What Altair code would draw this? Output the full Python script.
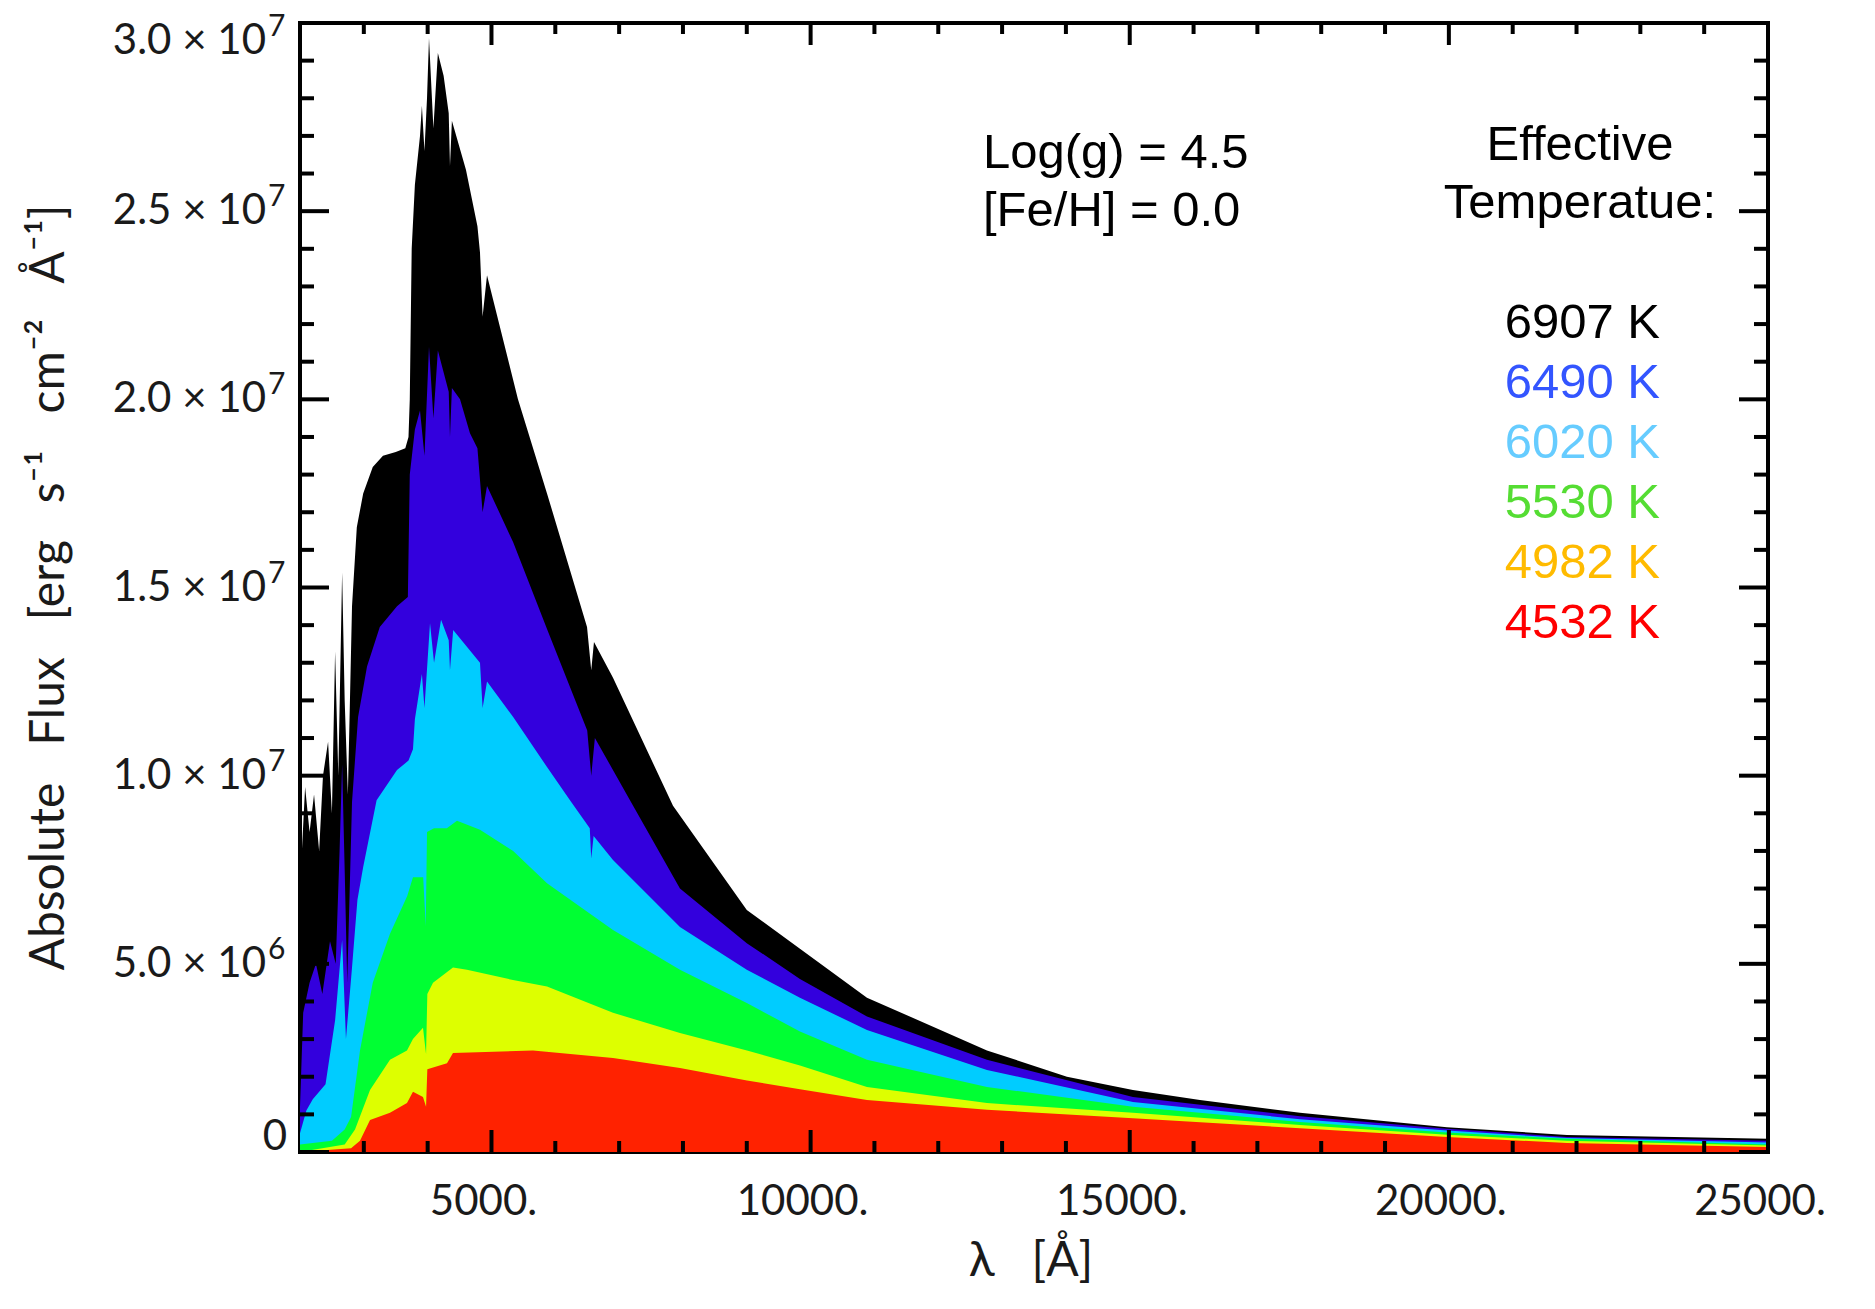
import altair as alt
import pandas as pd

# ---------------- data ----------------
# wavelength in Angstrom, flux in units of 1e7 erg s^-1 cm^-2 A^-1 (upper envelope)
temps = ["6907 K", "6490 K", "6020 K", "5530 K", "4982 K", "4532 K"]
fill_colors = ["#000000", "#3300dd", "#00ccff", "#00ff33", "#ddff00", "#ff2200"]
label_colors = ["#000000", "#3355ff", "#66ccff", "#55dd33", "#ffbb00", "#ff0000"]

wl_6907 = [2000, 2080, 2150, 2220, 2300, 2360, 2440, 2500, 2550, 2600, 2660, 2700, 2750, 2815,
           2890, 2990, 3140, 3300, 3500, 3650, 3700, 3720, 3750, 3800, 3880, 3910, 3950, 3990,
           4021, 4090, 4160, 4250, 4330, 4350, 4380, 4600, 4780, 4820, 4861, 4930, 5415, 5870,
           6497, 6563, 6606, 6904, 7844, 9000, 9833, 10883, 12763, 14016, 15050, 16100,
           17667, 19970, 21850, 25000]
fx_6907 = [0.70, 0.97, 0.85, 0.95, 0.80, 1.00, 1.09, 0.90, 1.33, 1.00, 1.54, 1.20, 0.95, 1.45,
           1.66, 1.75, 1.82, 1.85, 1.86, 1.87, 1.90, 2.00, 2.40, 2.57, 2.70, 2.78, 2.66, 2.80,
           2.96, 2.72, 2.92, 2.86, 2.76, 2.62, 2.74, 2.61, 2.46, 2.39, 2.22, 2.33, 2.00, 1.75,
           1.395, 1.28, 1.355, 1.26, 0.92, 0.643, 0.54, 0.41, 0.27, 0.20, 0.165, 0.138,
           0.104, 0.066, 0.045, 0.035]

wl_6490 = [2000, 2050, 2150, 2250, 2350, 2470, 2560, 2620, 2660, 2700, 2740, 2815, 2910, 3050,
           3250, 3520, 3690, 3720, 3800, 3880, 3950, 4021, 4090, 4160, 4330, 4350, 4380, 4507,
           4663, 4780, 4861, 4930, 5340, 5870, 6500, 6563, 6620, 7170, 7953, 9000, 9833, 10883,
           12763, 15050, 17667, 19970, 21850, 25000]
fx_6490 = [0.12, 0.37, 0.45, 0.50, 0.42, 0.56, 0.50, 0.80, 1.03, 0.75, 0.45, 0.93, 1.156, 1.29,
           1.395, 1.45, 1.475, 1.80, 1.92, 1.97, 1.85, 2.14, 1.95, 2.13, 2.02, 1.90, 2.03, 2.00,
           1.91, 1.87, 1.70, 1.77, 1.62, 1.39, 1.12, 1.00, 1.10, 0.935, 0.70, 0.555, 0.46, 0.36,
           0.245, 0.146, 0.095, 0.062, 0.040, 0.030]

wl_6020 = [2000, 2100, 2200, 2400, 2550, 2660, 2720, 2815, 2900, 2990, 3200, 3520, 3700, 3770,
           3800, 3910, 3950, 4037, 4100, 4210, 4330, 4350, 4400, 4820, 4861, 4930, 5340, 5870,
           6230, 6540, 6563, 6600, 6904, 7953, 9000, 9833, 10883, 12763, 15050, 17667, 19970,
           21850, 25000]
fx_6020 = [0.05, 0.11, 0.14, 0.18, 0.35, 0.563, 0.30, 0.49, 0.67, 0.757, 0.935, 1.015, 1.04, 1.07,
           1.15, 1.27, 1.18, 1.405, 1.30, 1.414, 1.36, 1.28, 1.387, 1.30, 1.18, 1.25, 1.156, 1.023,
           0.935, 0.86, 0.78, 0.84, 0.776, 0.598, 0.484, 0.41, 0.324, 0.218, 0.133, 0.087, 0.057,
           0.037, 0.025]

wl_5530 = [2000, 2500, 2700, 2800, 2940, 3140, 3410, 3680, 3770, 3930, 3970, 3990, 4100, 4300,
           4460, 4820, 5340, 5870, 6904, 7953, 9000, 9833, 10883, 12763, 15050, 17667, 19970,
           21850, 25000]
fx_5530 = [0.02, 0.03, 0.06, 0.093, 0.27, 0.45, 0.58, 0.68, 0.73, 0.73, 0.60, 0.85, 0.86, 0.86,
           0.88, 0.856, 0.80, 0.714, 0.59, 0.484, 0.396, 0.32, 0.245, 0.173, 0.12, 0.080, 0.052,
           0.035, 0.020]

wl_4982 = [2000, 2700, 2862, 3097, 3410, 3676, 3770, 3927, 3975, 3995, 4084, 4397, 4616, 5337,
           5870, 6904, 7953, 9003, 9833, 10883, 12763, 15050, 17667, 19970, 21850, 25000]
fx_4982 = [0.0, 0.02, 0.06, 0.165, 0.245, 0.27, 0.30, 0.33, 0.26, 0.42, 0.45, 0.49, 0.484, 0.457,
           0.44, 0.37, 0.316, 0.27, 0.23, 0.173, 0.13, 0.104, 0.072, 0.046, 0.030, 0.017]

wl_4532 = [2000, 2800, 2940, 3097, 3410, 3676, 3770, 3927, 3975, 3995, 4303, 4397, 5650, 6904,
           7953, 9003, 9833, 10883, 12763, 15050, 17667, 19970, 21850, 25000]
fx_4532 = [0.0, 0.01, 0.03, 0.085, 0.104, 0.13, 0.16, 0.146, 0.12, 0.22, 0.236, 0.263, 0.27, 0.25,
           0.223, 0.19, 0.167, 0.138, 0.112, 0.09, 0.063, 0.040, 0.024, 0.013]

series_wl = [wl_6907, wl_6490, wl_6020, wl_5530, wl_4982, wl_4532]
series_fx = [fx_6907, fx_6490, fx_6020, fx_5530, fx_4982, fx_4532]

x_major = [5000, 10000, 15000, 20000, 25000]
x_minor = [v for v in range(3000, 25000, 1000) if v % 5000 != 0]
y_major = [0, 5e6, 1e7, 1.5e7, 2e7, 2.5e7, 3e7]
y_minor = [v * 1e6 for v in range(1, 30) if v % 5 != 0]

SP = " \u00a0\u00a0"  # wide word gap (plain spaces collapse in SVG)
x_title = "λ" + SP + "[Å]"
y_title = SP.join(["Absolute", "Flux", "[erg", "s⁻¹", "cm⁻²", "Å⁻¹]"])
annot_lines = ["Log(g) = 4.5", "[Fe/H] = 0.0"]
legend_head = ["Effective", "Temperatue:"]

# ---------------- chart ----------------
W, H = 1468, 1129
xscale = alt.Scale(domain=[2000, 25000], nice=False, zero=False)
yscale = alt.Scale(domain=[0, 3e7], nice=False, zero=False)
AX_FONT = "Lato"
TXT_FONT = "Liberation Sans"
AX_COLOR = "#1a1a1a"

layers = []
for name, wl, fx, col in zip(temps, series_wl, series_fx, fill_colors):
    df = pd.DataFrame({"wl": wl, "flux": [f * 1e7 for f in fx], "teff": name})
    layers.append(
        alt.Chart(df).mark_area(color=col, opacity=1, interpolate="linear").encode(
            x=alt.X("wl:Q", scale=xscale, axis=None),
            y=alt.Y("flux:Q", scale=yscale, axis=None),
        )
    )


def xticks(vals, length, top):
    df = pd.DataFrame({"v": vals})
    y0, y1 = (0, length) if top else (H, H - length)
    return alt.Chart(df).mark_rule(color="black", strokeWidth=4).encode(
        x=alt.X("v:Q", scale=xscale, axis=None), y=alt.value(y0), y2=alt.value(y1))


def yticks(vals, length, right):
    df = pd.DataFrame({"v": vals})
    x0, x1 = (W, W - length) if right else (0, length)
    return alt.Chart(df).mark_rule(color="black", strokeWidth=4).encode(
        y=alt.Y("v:Q", scale=yscale, axis=None), x=alt.value(x0), x2=alt.value(x1))


for top in (False, True):
    layers.append(xticks(x_major, 22, top))
    layers.append(xticks(x_minor, 11, top))
for right in (False, True):
    layers.append(yticks(y_major, 29, right))
    layers.append(yticks(y_minor, 14, right))

# x tick labels as text marks placed through the scale
xlab = alt.Chart(pd.DataFrame({"v": x_major})).transform_calculate(
    lab="format(datum.v, 'd') + '.'"
).mark_text(font=AX_FONT, fontSize=42, color=AX_COLOR, align="center", baseline="middle",
            dx=-8).encode(
    x=alt.X("v:Q", scale=xscale, axis=None), y=alt.value(H + 50), text="lab:N")
layers.append(xlab)

# y tick labels: mantissa "×10" part and a raised exponent
ydf = pd.DataFrame({"v": y_major})
base_expr = ("datum.v == 0 ? '0' : datum.v < 7e6 ? format(datum.v/1e6, '.1f') + ' × 10' : "
             "format(datum.v/1e7, '.1f') + ' × 10'")
expo_expr = "datum.v == 0 ? '' : datum.v < 7e6 ? '6' : '7'"
for cond, dy in (("datum.v > 0 && datum.v < 3e7", 0), ("datum.v == 3e7", 18)):
    sub = alt.Chart(ydf).transform_filter(cond).transform_calculate(base=base_expr, expo=expo_expr)
    layers.append(
        sub.mark_text(font=AX_FONT, fontSize=42, color=AX_COLOR, align="right",
                      baseline="middle", dy=dy)
        .encode(y=alt.Y("v:Q", scale=yscale, axis=None), x=alt.value(-34), text="base:N"))
    layers.append(
        sub.mark_text(font=AX_FONT, fontSize=30, color=AX_COLOR, align="left",
                      baseline="middle", dy=dy - 14)
        .encode(y=alt.Y("v:Q", scale=yscale, axis=None), x=alt.value(-32), text="expo:N"))
layers.append(
    alt.Chart(ydf).transform_filter("datum.v == 0").transform_calculate(base=base_expr)
    .mark_text(font=AX_FONT, fontSize=42, color=AX_COLOR, align="right", baseline="middle", dy=-15)
    .encode(y=alt.Y("v:Q", scale=yscale, axis=None), x=alt.value(-13), text="base:N"))


def text_layer(t, x, y, color="black", align="left", font=TXT_FONT, size=49, angle=0):
    return alt.Chart(pd.DataFrame({"t": [t]})).mark_text(
        font=font, fontSize=size, color=color, align=align, baseline="middle", angle=angle).encode(
        text="t:N", x=alt.value(x), y=alt.value(y))


layers.append(text_layer(x_title, W / 2 - 3, H + 110, color=AX_COLOR, align="center",
                         font=AX_FONT, size=48))
layers.append(text_layer(y_title, -250, H / 2, color=AX_COLOR, align="center",
                         font=AX_FONT, size=48, angle=270))

for j, t in enumerate(annot_lines):
    layers.append(text_layer(t, 683, 130 + 58 * j))
for j, t in enumerate(legend_head):
    layers.append(text_layer(t, 1280, 122 + 58 * j, align="center"))
for j, (t, c) in enumerate(zip(temps, label_colors)):
    layers.append(text_layer(t, 1360, 300 + 60 * j, color=c, align="right"))

chart = alt.layer(*layers).properties(
    width=W, height=H,
    autosize=alt.AutoSizeParams(type="none"),
    padding={"left": 300, "top": 23, "right": 107, "bottom": 157},
    background="white",
).configure_view(stroke="black", strokeWidth=4)

chart.save("out.html", embed_options={"renderer": "svg", "actions": False})
